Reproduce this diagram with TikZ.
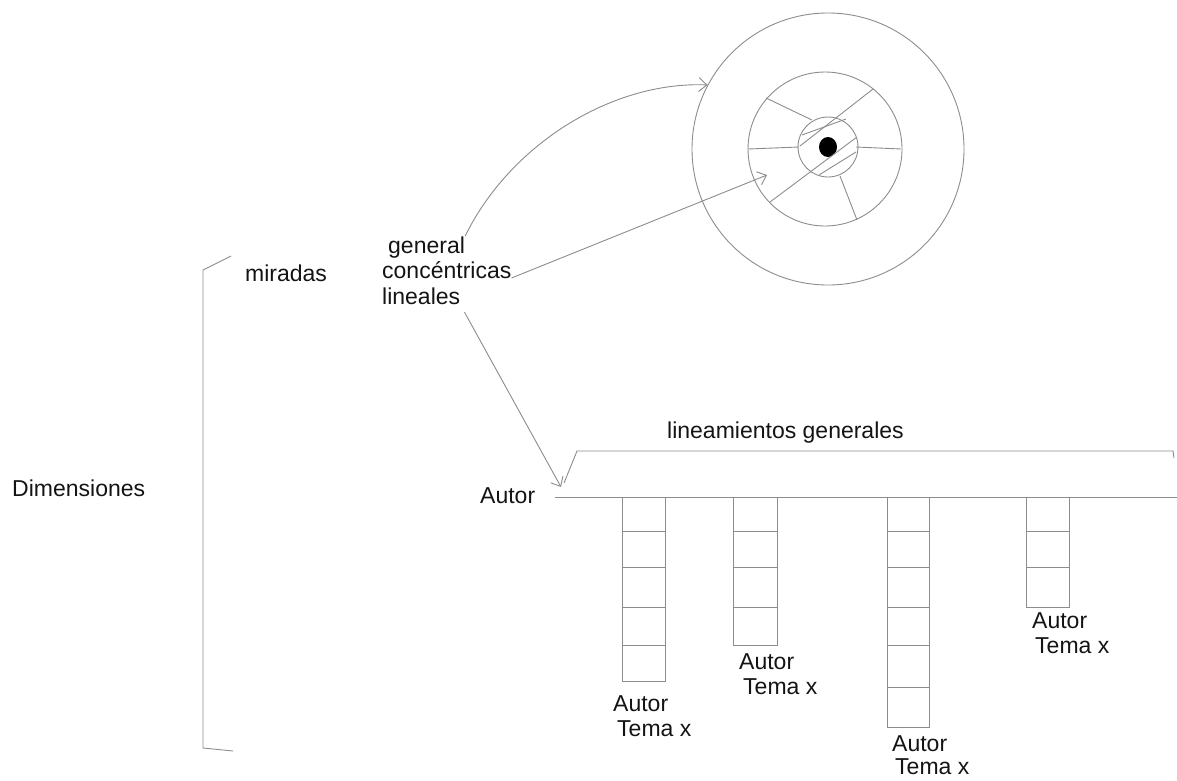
\documentclass[tikz,border=0pt]{standalone}
\usepackage{fontspec}
\setmainfont{Liberation Sans}
\usetikzlibrary{arrows.meta}
\begin{document}
\begin{tikzpicture}[x=1pt,y=-1pt,
  ln/.style={draw=black!45, line width=0.9pt},
  lbl/.style={anchor=base west, inner sep=0pt, font=\fontsize{23}{26}\selectfont, text=black!92},
  ring/.style={ln, circle, inner sep=0pt},
  tip/.style={-{Straight Barb[length=8pt,width=14pt]}}]
\useasboundingbox (0,0) rectangle (1177,780);

% texts
\node[lbl] (dim) at (12,496) {Dimensiones};
\node[lbl] (mir) at (245,281) {miradas};
\node[lbl] (gen) at (388,253) {general};
\node[lbl] (conc) at (382,278) {concéntricas};
\node[lbl] (lin) at (382,304) {lineales};
\node[lbl] (aut) at (480,503) {Autor};
\node[lbl] (lg) at (667,438) {lineamientos generales};

% bracket
\draw[ln] (231,256) -- (203,270) -- (203,748) -- (233,751);

% circles
\node[ring, minimum size=272pt] (outer) at (828,149) {};
\node[ring, minimum size=154pt] (mid) at (825,149) {};
\node[ring, minimum size=60pt] (inn) at (828,147) {};
\fill[black] (828,147) ellipse [x radius=9, y radius=10];

% spokes and hatching
\draw[ln] (766,98) -- (812,120);
\draw[ln] (748,149) -- (799,147);
\draw[ln] (873,89) -- (800,146);
\draw[ln] (856,147) -- (901,149);
\draw[ln] (840,176) -- (857,220);
\draw[ln] (770,202) -- (857,137);
\draw[ln] (802,135) -- (846,119);
\draw[ln] (819,175) -- (856,152);

% arrows
\coordinate (t2) at (767,175);
\coordinate (t3) at (561,487);
\draw[ln, tip] (gen.north east) .. controls +(45,-92) and +(-95,-4) .. (outer.152);
\draw[ln, tip] (conc.base east) -- (t2);
\draw[ln, tip] ([shift={(4,8)}]lin.base east) -- (t3);

% lineamientos shape
\draw[ln] (564,483) -- (577,451) -- (1173,451) -- (1174,458);
\draw[ln] (555,497) -- (1177,497);

% columns of boxes
\foreach \y/\h in {497/531,531/567,567/607,607/645,645/681}
  \draw[ln] (622,\y) rectangle (665,\h);
\foreach \y/\h in {497/531,531/567,567/607,607/645}
  \draw[ln] (733,\y) rectangle (777,\h);
\foreach \y/\h in {497/531,531/567,567/607,607/645,645/687,687/727}
  \draw[ln] (887,\y) rectangle (929,\h);
\foreach \y/\h in {497/531,531/567,567/607}
  \draw[ln] (1026,\y) rectangle (1069,\h);

% column labels
\node[lbl] (a1) at (613,711) {Autor};
\node[lbl] (t1) at (617,736) {Tema x};
\node[lbl] (a2) at (739,669) {Autor};
\node[lbl] (tt2) at (743,694) {Tema x};
\node[lbl] (a3) at (892,751) {Autor};
\node[lbl] (tt3) at (895,774) {Tema x};
\node[lbl] (a4) at (1032,628) {Autor};
\node[lbl] (t4) at (1035,653) {Tema x};
\end{tikzpicture}
\end{document}
